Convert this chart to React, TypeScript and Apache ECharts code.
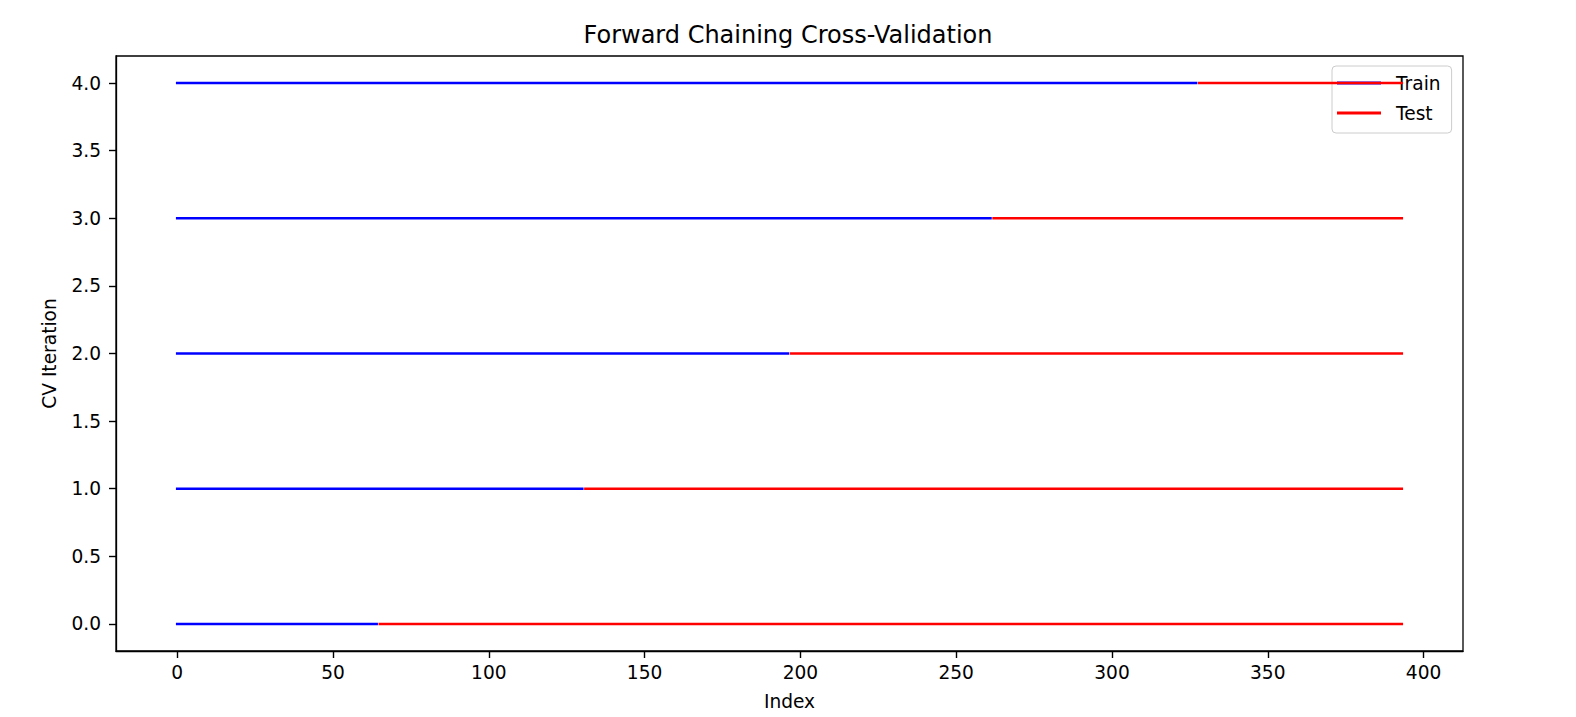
import React, { useEffect, useRef } from "react";
import * as echarts from "echarts";

const chartTitle = "Forward Chaining Cross-Validation";
const xAxisName = "Index";
const yAxisName = "CV Iteration";
const legendNames = ["Train", "Test"];
const xTickValues = [0, 50, 100, 150, 200, 250, 300, 350, 400];
const yTickValues = [0, 0.5, 1, 1.5, 2, 2.5, 3, 3.5, 4];
const iterations = [0, 1, 2, 3, 4];
const trainStart = [0, 0, 0, 0, 0];
const trainEnd = [64, 130, 196, 261, 327];
const testStart = [65, 131, 197, 262, 328];
const testEnd = [393, 393, 393, 393, 393];
const xRange = [-19.65, 412.65];
const yRange = [-0.2, 4.2];

const FONT = "DejaVu Sans";

export default function App() {
  const ref = useRef<HTMLDivElement>(null);
  useEffect(() => {
    document.body.style.margin = "0";
    if (!ref.current) return;
    const chart = echarts.init(ref.current, undefined, { renderer: "svg" });
    const series: any[] = [];
    iterations.forEach((it, i) => {
      series.push({
        name: legendNames[0],
        type: "line",
        symbol: "none",
        showSymbol: false,
        data: [
          [trainStart[i], it],
          [trainEnd[i], it],
        ],
        itemStyle: { color: "#0000ff" },
        lineStyle: { color: "#0000ff", width: 2.6, cap: "square" },
        z: 2 + i * 2,
      });
      series.push({
        name: legendNames[1],
        type: "line",
        symbol: "none",
        showSymbol: false,
        data: [
          [testStart[i], it],
          [testEnd[i], it],
        ],
        itemStyle: { color: "#ff0000" },
        lineStyle: { color: "#ff0000", width: 2.6, cap: "square" },
        z: 3 + i * 2,
      });
    });
    chart.setOption({
      animation: false,
      backgroundColor: "#ffffff",
      textStyle: { fontFamily: FONT },
      title: {
        text: chartTitle,
        left: "center",
        top: 23,
        padding: 0,
        textStyle: { fontSize: 24, fontWeight: "normal", color: "#000", fontFamily: FONT },
      },
      legend: {
        data: legendNames,
        orient: "vertical",
        left: 1332,
        top: 66,
        icon: "rect",
        itemWidth: 44,
        itemHeight: 3,
        itemGap: 8,
        padding: [6, 11, 9, 5],
        backgroundColor: "rgba(255,255,255,0.8)",
        borderColor: "#cccccc",
        borderWidth: 1,
        borderRadius: 4,
        itemStyle: { borderWidth: 0 },
        textStyle: { fontSize: 18.6, fontFamily: FONT, color: "#000", lineHeight: 22, padding: [0, 0, 0, 10] },
      },
      grid: {
        left: 116,
        right: 113,
        top: 56,
        bottom: 66,
        show: true,
        borderColor: "#000",
        borderWidth: 1.3,
        backgroundColor: "#fff",
        containLabel: false,
        outerBoundsMode: "none",
      },
      xAxis: {
        type: "value",
        min: xRange[0],
        max: xRange[1],
        name: xAxisName,
        nameLocation: "middle",
        nameGap: 41,
        nameTextStyle: { fontSize: 18.6, color: "#000", fontFamily: FONT },
        splitLine: { show: false },
        axisLine: { show: true, onZero: false, lineStyle: { color: "#000", width: 1.3 } },
        axisTick: { show: true, inside: false, length: 7, lineStyle: { color: "#000", width: 1.4 }, customValues: xTickValues },
        axisLabel: { fontSize: 18.6, color: "#000", fontFamily: FONT, margin: 12, customValues: xTickValues, formatter: (v: number) => String(v) },
      },
      yAxis: {
        type: "value",
        min: yRange[0],
        max: yRange[1],
        name: yAxisName,
        nameLocation: "middle",
        nameRotate: 90,
        nameGap: 57,
        nameTextStyle: { fontSize: 18.6, color: "#000", fontFamily: FONT },
        splitLine: { show: false },
        axisLine: { show: true, onZero: false, lineStyle: { color: "#000", width: 1.3 } },
        axisTick: { show: true, inside: false, length: 7, lineStyle: { color: "#000", width: 1.4 }, customValues: yTickValues },
        axisLabel: { fontSize: 18.6, color: "#000", fontFamily: FONT, margin: 15, customValues: yTickValues, formatter: (v: number) => v.toFixed(1) },
      },
      series,
    });
    return () => chart.dispose();
  }, []);
  return <div ref={ref} style={{ position: "absolute", left: 0, top: 0, width: 1576, height: 717 }} />;
}
